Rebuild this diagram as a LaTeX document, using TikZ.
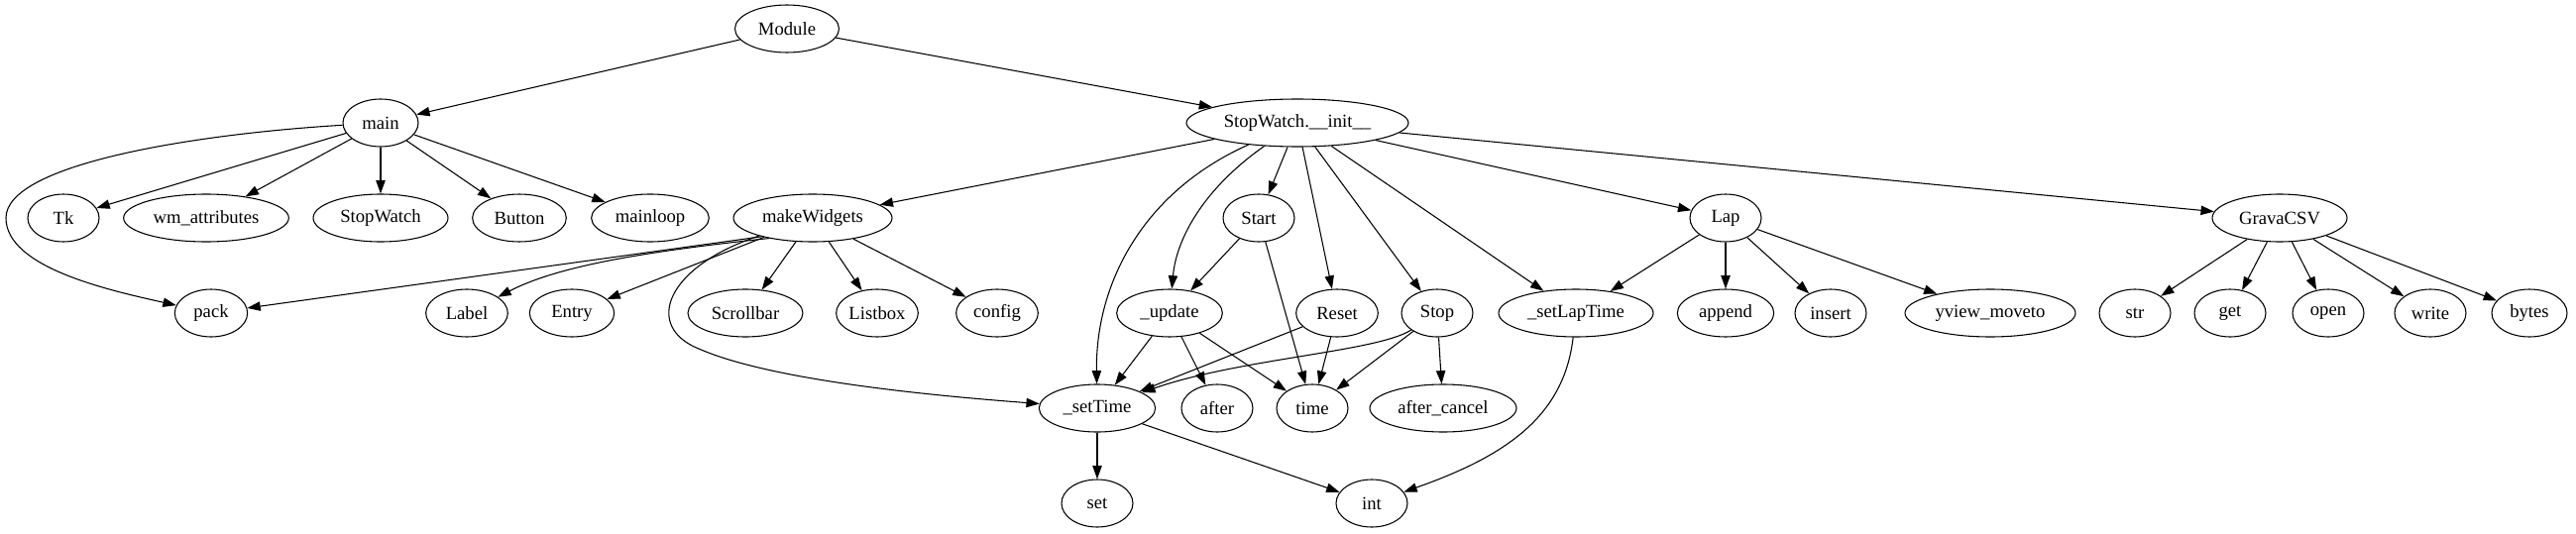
\documentclass[tikz,border=0pt]{standalone}
\usepackage{fontspec}
\setmainfont{Liberation Serif}
\usetikzlibrary{shapes.geometric,arrows.meta}
\begin{document}
\begin{tikzpicture}[x=0.75pt,y=-0.75pt,
  fn/.style={ellipse, draw, line width=0.8pt, minimum height=36pt, inner sep=0pt, minimum width=#1, font=\fontsize{14}{16}\selectfont},
  edge/.style={line width=0.8pt, -{Triangle[length=10pt,width=7pt]}}]
\useasboundingbox (0,0) rectangle (2599,539);
% rank 0
\node[fn=78.75pt] (mod) at (794,29) {Module};
% rank 1
\node[fn=57pt] (main) at (384,124) {main};
\node[fn=168pt] (swi) at (1309,124) {StopWatch.\_\_init\_\_};
% rank 2
\node[fn=54pt] (tk) at (64,220) {Tk};
\node[fn=125pt] (wm) at (208,220) {wm\_attributes};
\node[fn=102pt] (sw) at (384,220) {StopWatch};
\node[fn=71pt] (btn) at (524,220) {Button};
\node[fn=89pt] (ml) at (656,220) {mainloop};
\node[fn=120pt] (mw) at (820,220) {makeWidgets};
\node[fn=54pt] (start) at (1270,220) {Start};
\node[fn=54pt] (lap) at (1741,220) {Lap};
\node[fn=102pt] (gcsv) at (2300,220) {GravaCSV};
% rank 3
\node[fn=55pt] (pack) at (213,316) {pack};
\node[fn=62pt] (label) at (471,316) {Label};
\node[fn=64pt] (entry) at (577,316) {Entry};
\node[fn=87pt] (sb) at (752,316) {Scrollbar};
\node[fn=62pt] (lb) at (885,316) {Listbox};
\node[fn=62pt] (cfg) at (1006,316) {config};
\node[fn=80pt] (upd) at (1180,316) {\_update};
\node[fn=62pt] (reset) at (1349,316) {Reset};
\node[fn=54pt] (stop) at (1450,316) {Stop};
\node[fn=117pt] (slt) at (1590,316) {\_setLapTime};
\node[fn=73pt] (app) at (1741,316) {append};
\node[fn=54pt] (ins) at (1847,316) {insert};
\node[fn=129pt] (yv) at (2008,316) {yview\_moveto};
\node[fn=54pt] (str) at (2154,316) {str};
\node[fn=54pt] (get) at (2250,316) {get};
\node[fn=54pt] (open) at (2349,316) {open};
\node[fn=54pt] (write) at (2452,316) {write};
\node[fn=57pt] (bytes) at (2552,316) {bytes};
% rank 4
\node[fn=88pt] (st) at (1107,412) {\_setTime};
\node[fn=54pt] (after) at (1228,412) {after};
\node[fn=54pt] (time) at (1324,412) {time};
\node[fn=111pt] (ac) at (1456,412) {after\_cancel};
% rank 5
\node[fn=54pt] (set) at (1107,508) {set};
\node[fn=54pt] (int) at (1384,508) {int};
% edges
\draw[edge] (mod) -- (main);
\draw[edge] (mod) -- (swi);
\foreach \t in {tk,wm,sw,btn,ml} \draw[edge] (main) -- (\t);
\draw[edge] (main) .. controls (200,135) and (6,165) .. (6,220) .. controls (6,270) and (110,293) .. (pack);
\draw[edge] (mw.200) -- (pack);
\draw[edge] (mw.205) .. controls (640,255) and (560,270) .. (label);
\draw[edge] (mw) -- (entry);
\draw[edge] (mw) .. controls (670,270) and (650,330) .. (705,352) .. controls (780,385) and (950,400) .. (st);
\foreach \t in {sb,lb,cfg} \draw[edge] (mw) -- (\t);
\draw[edge] (swi) -- (mw);
\draw[edge] (swi) .. controls (1150,195) and (1105,290) .. (st);
\draw[edge] (swi) .. controls (1215,190) and (1187,240) .. (upd);
\draw[edge] (swi) -- (start);
\draw[edge] (swi) -- (reset);
\draw[edge] (swi) -- (stop);
\draw[edge] (swi) -- (slt);
\draw[edge] (swi) -- (lap);
\draw[edge] (swi) -- (gcsv);
\draw[edge] (start) -- (upd);
\draw[edge] (start) -- (time);
\draw[edge] (upd) -- (st);
\draw[edge] (upd) -- (after);
\draw[edge] (upd) -- (time);
\draw[edge] (reset) -- (st);
\draw[edge] (reset) -- (time);
\draw[edge] (stop) .. controls (1390,355) and (1250,362) .. (st);
\draw[edge] (stop) -- (time);
\draw[edge] (stop) -- (ac);
\draw[edge] (slt) .. controls (1578,420) and (1520,460) .. (int);
\draw[edge] (st) -- (set);
\draw[edge] (st) -- (int);
\foreach \t in {slt,app,ins,yv} \draw[edge] (lap) -- (\t);
\foreach \t in {str,get,open,write,bytes} \draw[edge] (gcsv) -- (\t);
\end{tikzpicture}
\end{document}
